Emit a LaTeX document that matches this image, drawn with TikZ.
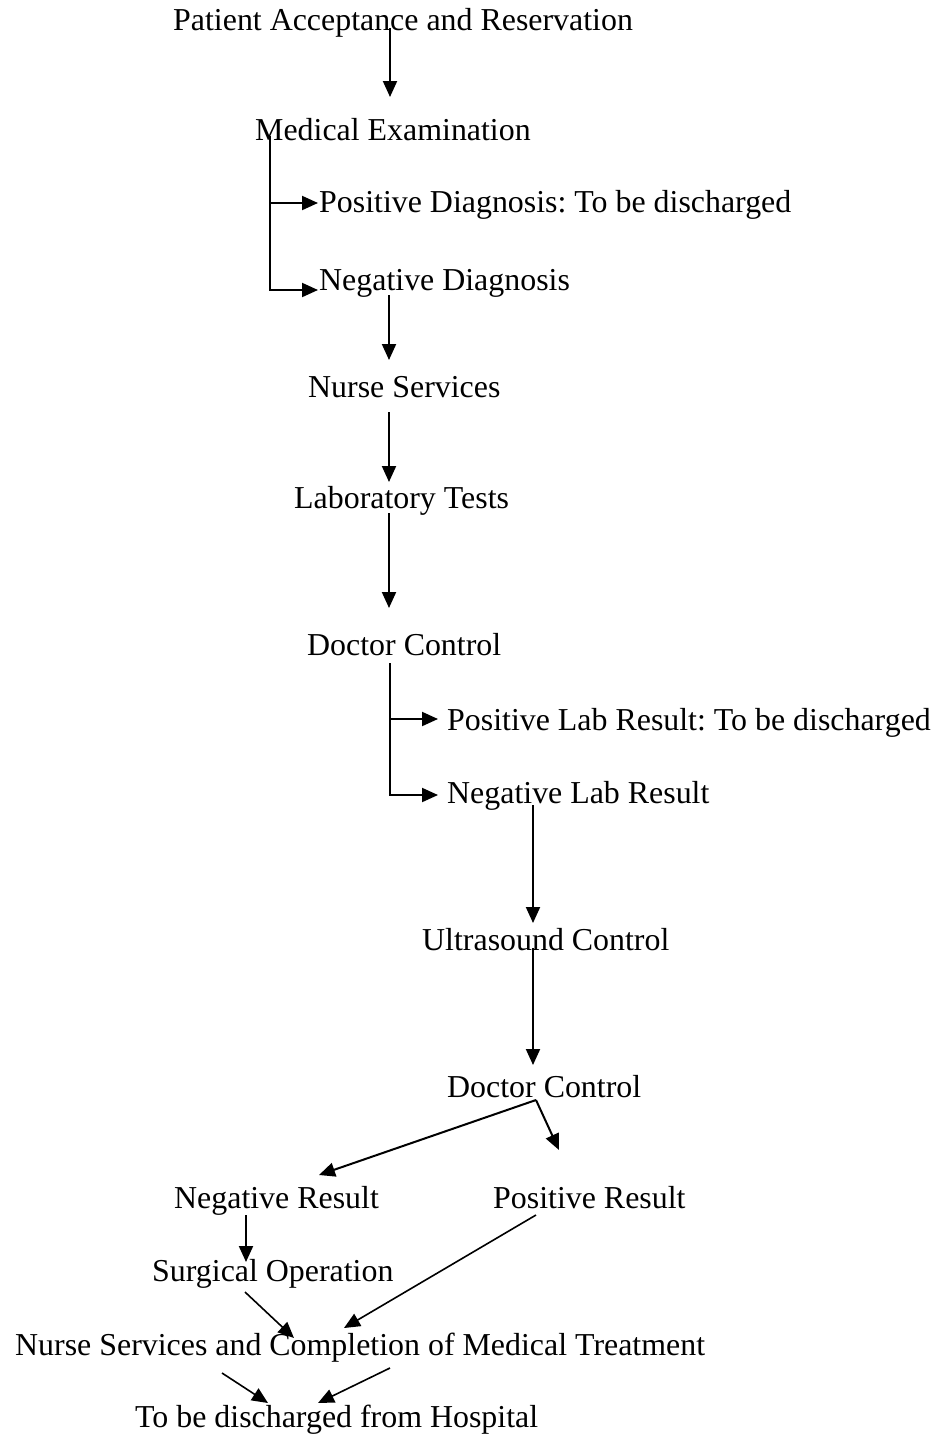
\documentclass[tikz,border=0pt]{standalone}
\usepackage{fontspec}
\setmainfont{Liberation Serif}
\frenchspacing
\usetikzlibrary{arrows.meta,calc}
\tikzstyle{stage}=[anchor=base west,inner sep=0pt,font=\fontsize{31.9pt}{38pt}\selectfont]
\tikzstyle{flow}=[-{Triangle[length=16pt,width=14pt]},line width=2pt]

\begin{document}
\begin{tikzpicture}[x=1pt,y=-1pt]
\useasboundingbox (0,0) rectangle (941,1437);
\node[stage] at (173, 31) (pat) {Patient Acceptance and Reservation};
\node[stage] at (255, 140) (med) {Medical Examination};
\node[stage] at (319, 212) (posdiag) {Positive Diagnosis: To be discharged};
\node[stage] at (319, 290) (negdiag) {Negative Diagnosis};
\node[stage] at (308, 397) (nurse) {Nurse Services};
\node[stage] at (294, 508) (lab) {Laboratory Tests};
\node[stage] at (307, 655) (doca) {Doctor Control};
\node[stage] at (447, 730) (poslab) {Positive Lab Result: To be discharged};
\node[stage] at (447, 803) (neglab) {Negative Lab Result};
\node[stage] at (422, 950) (ultra) {Ultrasound Control};
\node[stage] at (447, 1097) (docb) {Doctor Control};
\node[stage] at (174, 1208) (negres) {Negative Result};
\node[stage] at (493, 1208) (posres) {Positive Result};
\node[stage] at (152, 1281) (surg) {Surgical Operation};
\node[stage] at (15, 1355) (treat) {Nurse Services and Completion of Medical Treatment};
\node[stage] at (135, 1427) (hosp) {To be discharged from Hospital};
\draw[flow] ($(pat.base west)+(217,-3)$) -- ($(med.base west)+(135,-43)$);
\draw[flow] ($(med.base west)+(15,-4)$) |- ($(posdiag.base west)+(-1,-9)$);
\draw[flow] ($(med.base west)+(15,-4)$) |- ($(negdiag.base west)+(-1,0)$);
\draw[flow] ($(negdiag.base west)+(70,5)$) -- ($(nurse.base west)+(81,-37)$);
\draw[flow] ($(nurse.base west)+(81,15)$) -- ($(lab.base west)+(95,-26)$);
\draw[flow] ($(lab.base west)+(95,5)$) -- ($(doca.base west)+(82,-47)$);
\draw[flow] ($(doca.base west)+(83,8)$) |- ($(poslab.base west)+(-9,-11)$);
\draw[flow] ($(doca.base west)+(83,8)$) |- ($(neglab.base west)+(-9,-8)$);
\draw[flow] ($(neglab.base west)+(86,2)$) -- ($(ultra.base west)+(111,-27)$);
\draw[flow] ($(ultra.base west)+(111,-2)$) -- ($(docb.base west)+(86,-32)$);
\draw[flow] ($(docb.base west)+(89,3)$) -- ($(negres.base west)+(145,-33)$);
\draw[flow] ($(docb.base west)+(89,3)$) -- ($(posres.base west)+(66,-58)$);
\draw[flow] ($(negres.base west)+(72,7)$) -- ($(surg.base west)+(94,-19)$);
\draw[flow,line width=1.6pt] ($(surg.base west)+(93,11)$) -- ($(treat.base west)+(279,-17)$);
\draw[flow,line width=1.6pt] ($(posres.base west)+(43,7)$) -- ($(treat.base west)+(329,-27)$);
\draw[flow,line width=1.6pt] ($(treat.base west)+(207,18)$) -- ($(hosp.base west)+(133,-24)$);
\draw[flow,line width=1.6pt] ($(treat.base west)+(375,13)$) -- ($(hosp.base west)+(183,-24)$);
\end{tikzpicture}
\end{document}
